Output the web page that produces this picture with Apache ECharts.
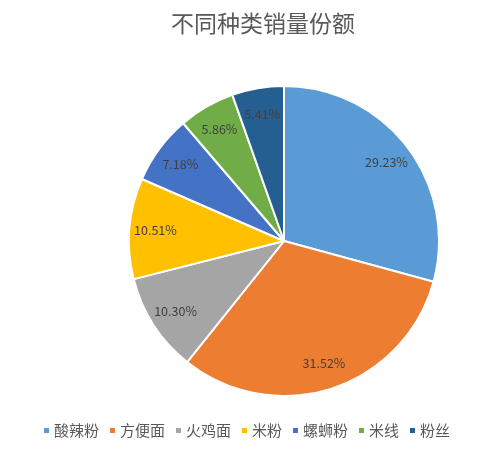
<!DOCTYPE html>
<html>
<head>
<meta charset="utf-8">
<script src="https://cdn.jsdelivr.net/npm/echarts@6/dist/echarts.min.js"></script>
<style>
html,body{margin:0;padding:0;background:#fff;}
#main{width:500px;height:453px;}
</style>
</head>
<body>
<div id="main"></div>
<script>
var categories = ['酸辣粉', '方便面', '火鸡面', '米粉', '螺蛳粉', '米线', '粉丝'];
var shares = [29.23, 31.52, 10.30, 10.51, 7.18, 5.86, 5.41];
var colors = ['#5B9BD5', '#ED7D31', '#A5A5A5', '#FFC000', '#4472C4', '#70AD47', '#255E91'];

var chart = echarts.init(document.getElementById('main'));

var pieData = [];
categories.forEach(function(name, i){
	pieData.push({name: name, value: shares[i], itemStyle: {color: colors[i]}});
});

var labelData = categories.map(function(name, i){
	return {name: name, value: shares[i]};
});

var font = '"Noto Sans CJK SC", "Microsoft YaHei", sans-serif';

option = {
	backgroundColor: '#fff',
	title: {
		text: '不同种类销量份额',
		left: 166,
		top: 7,
		textStyle: {
			color: '#595959',
			fontSize: 23,
			fontWeight: 'normal',
			fontFamily: font
		}
	},
	legend: {
		bottom: 10,
		left: 37,
		icon: 'rect',
		itemWidth: 7,
		itemHeight: 7,
		itemGap: 9,
		data: categories,
		textStyle: {color: '#595959', fontSize: 15, fontFamily: font, padding: [0, 0, 0, -1]}
	},
	series: [
		{
			type: 'pie',
			center: [284, 241],
			radius: [0, 155],
			startAngle: 90,
			clockwise: true,
			silent: true,
			data: pieData,
			itemStyle: {borderColor: '#fff', borderWidth: 2},
			label: {show: false},
			labelLine: {show: false}
		},
		{
			// transparent ring, only used to place the percent labels near the rim
			type: 'pie',
			center: [284, 241],
			radius: [97, 155],
			startAngle: 90,
			clockwise: true,
			silent: true,
			data: labelData,
			itemStyle: {color: 'rgba(0,0,0,0)'},
			label: {
				show: true,
				position: 'inside',
				formatter: function(p){ return p.value.toFixed(2) + '%'; },
				color: '#404040',
				fontSize: 12.5,
				fontFamily: font
			},
			labelLine: {show: false}
		}
	]
};

chart.setOption(option);
</script>
</body>
</html>
